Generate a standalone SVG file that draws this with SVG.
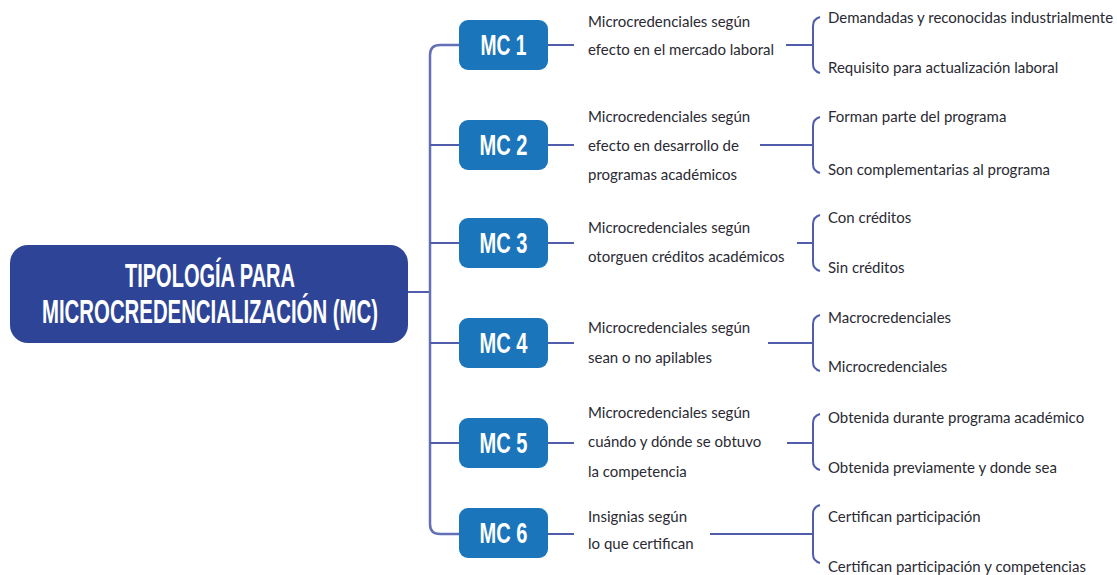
<svg xmlns="http://www.w3.org/2000/svg" width="1117" height="575" viewBox="0 0 1117 575">
<style>
.bg{fill:#ffffff}
.main{fill:#2e4597}
.mc{fill:#1b75bb}
.ttl{font-family:"Liberation Sans",Arial,sans-serif;font-weight:bold;fill:#ffffff;font-size:33px}
.mct{font-family:"Liberation Sans",Arial,sans-serif;font-weight:bold;fill:#ffffff;font-size:29px}
.t{font-family:Lato,"Open Sans",sans-serif;font-size:15px;fill:#2a2a33}
.ln{fill:none;stroke:#4f5dab;stroke-width:2}
.trunk{fill:none;stroke:#6470b6;stroke-width:2.5}
</style>
<rect class="bg" x="0" y="0" width="1117" height="575"/>
<g id="connectors">
<path class="ln" d="M408 292 H430"/>
<path class="trunk" d="M459 45 H440 Q430 45 430 55 V524 Q430 534 440 534 H459"/>
<path class="ln" d="M430 145 H459 M430 243 H459 M430 343 H459 M430 443 H459"/>
<path class="ln" d="M548 45 H574 M548 145 H574 M548 243 H574 M548 343 H574 M548 443 H574 M548 534 H574"/>
<path class="ln" d="M786 45 H813 M760 145 H813 M797 243 H813 M768 343 H813 M787 443 H813 M710 534 H813"/>
<path class="ln" d="M820 17 Q813 19 813 26 V64 Q813 71 820 73"/>
<path class="ln" d="M820 117 Q813 119 813 126 V164 Q813 171 820 173"/>
<path class="ln" d="M820 215 Q813 217 813 224 V262 Q813 269 820 271"/>
<path class="ln" d="M820 315 Q813 317 813 324 V362 Q813 369 820 371"/>
<path class="ln" d="M820 414 Q813 416 813 423 V461 Q813 468 820 470"/>
<path class="ln" d="M820 505 Q813 507 813 514 V554 Q813 561 820 563"/>
</g>
<g id="root">
<rect class="main" x="10" y="245" width="398" height="98" rx="18"/>
<text class="ttl" x="210" y="287" text-anchor="middle" textLength="170" lengthAdjust="spacingAndGlyphs">TIPOLOGÍA PARA</text>
<text class="ttl" x="210" y="323" text-anchor="middle" textLength="336" lengthAdjust="spacingAndGlyphs">MICROCREDENCIALIZACIÓN (MC)</text>
</g>
<g id="mc1">
<rect class="mc" x="459" y="20" width="89" height="50" rx="9"/>
<text class="mct" x="503.5" y="55" text-anchor="middle" textLength="46" lengthAdjust="spacingAndGlyphs">MC 1</text>
<text class="t" x="588" y="27">Microcredenciales según</text>
<text class="t" x="588" y="55">efecto en el mercado laboral</text>
<text class="t" x="828" y="23">Demandadas y reconocidas industrialmente</text>
<text class="t" x="828" y="73">Requisito para actualización laboral</text>
</g>
<g id="mc2">
<rect class="mc" x="459" y="120" width="89" height="50" rx="9"/>
<text class="mct" x="503.5" y="155" text-anchor="middle" textLength="48" lengthAdjust="spacingAndGlyphs">MC 2</text>
<text class="t" x="588" y="122">Microcredenciales según</text>
<text class="t" x="588" y="151">efecto en desarrollo de</text>
<text class="t" x="588" y="180">programas académicos</text>
<text class="t" x="828" y="122">Forman parte del programa</text>
<text class="t" x="828" y="175">Son complementarias al programa</text>
</g>
<g id="mc3">
<rect class="mc" x="459" y="218" width="89" height="50" rx="9"/>
<text class="mct" x="503.5" y="253" text-anchor="middle" textLength="48" lengthAdjust="spacingAndGlyphs">MC 3</text>
<text class="t" x="588" y="233">Microcredenciales según</text>
<text class="t" x="588" y="262">otorguen créditos académicos</text>
<text class="t" x="828" y="223">Con créditos</text>
<text class="t" x="828" y="273">Sin créditos</text>
</g>
<g id="mc4">
<rect class="mc" x="459" y="318" width="89" height="50" rx="9"/>
<text class="mct" x="503.5" y="353" text-anchor="middle" textLength="48" lengthAdjust="spacingAndGlyphs">MC 4</text>
<text class="t" x="588" y="333">Microcredenciales según</text>
<text class="t" x="588" y="363">sean o no apilables</text>
<text class="t" x="828" y="323">Macrocredenciales</text>
<text class="t" x="828" y="372">Microcredenciales</text>
</g>
<g id="mc5">
<rect class="mc" x="459" y="418" width="89" height="50" rx="9"/>
<text class="mct" x="503.5" y="453" text-anchor="middle" textLength="48" lengthAdjust="spacingAndGlyphs">MC 5</text>
<text class="t" x="588" y="418">Microcredenciales según</text>
<text class="t" x="588" y="447">cuándo y dónde se obtuvo</text>
<text class="t" x="588" y="477">la competencia</text>
<text class="t" x="828" y="423">Obtenida durante programa académico</text>
<text class="t" x="828" y="473">Obtenida previamente y donde sea</text>
</g>
<g id="mc6">
<rect class="mc" x="459" y="508" width="89" height="50" rx="9"/>
<text class="mct" x="503.5" y="543" text-anchor="middle" textLength="48" lengthAdjust="spacingAndGlyphs">MC 6</text>
<text class="t" x="588" y="522">Insignias según</text>
<text class="t" x="588" y="549">lo que certifican</text>
<text class="t" x="828" y="522">Certifican participación</text>
<text class="t" x="828" y="572">Certifican participación y competencias</text>
</g>
</svg>
